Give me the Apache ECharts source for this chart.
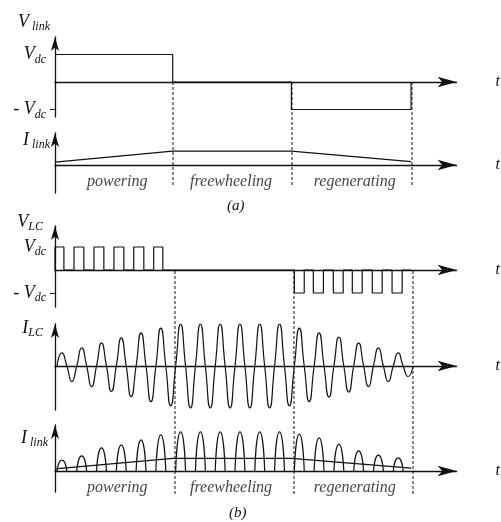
<!DOCTYPE html>
<html>
<head>
<meta charset="utf-8">
<script src="https://cdn.jsdelivr.net/npm/echarts@6/dist/echarts.min.js"></script>
<style>
  html, body { margin: 0; padding: 0; background: #fff; }
  #main { width: 501px; height: 522px; }
</style>
</head>
<body>
<div id="main"></div>
<script>
// time axis: one unit = one resonant cycle, phases change at ~6 and ~12
const xMax = 20.3
const phases = ['powering', 'freewheeling', 'regenerating']
const phaseLabelT = [3.15, 8.9, 15.15]
const phaseBoundsA = [5.95, 11.95, 18]
const phaseBoundsB = [6.05, 12.05, 18.05]

// (a) link voltage / link current
const vlinkEdges = [0, 5.95, 11.95, 18]
const vlinkLevels = [1, 0, -1]
const ilinkAvgT = [0, 5.95, 11.95, 18]
const ilinkAvgA = [0.07, 0.33, 0.33, 0.08]
const ilinkAvgB = [0.05, 0.30, 0.30, 0.07]

// (b) LC voltage pulses
const vlcPosOn = [0, 0.96, 1.97, 2.98, 3.98, 4.99]
const vlcPosOff = [0.45, 1.46, 2.47, 3.48, 4.49, 5.45]
const vlcNegOn = [12.1, 13.06, 14.07, 15.03, 16.04, 17.04]
const vlcNegOff = [12.6, 13.57, 14.57, 15.53, 16.54, 17.55]

// resonant current, one value per cycle
const cycleStart = 0.1
const ilcPeak = [0.31, 0.43, 0.55, 0.67, 0.79, 0.90, 1, 1, 1, 1, 1, 1, 0.90, 0.79, 0.69, 0.55, 0.43, 0.31]
const ilcTrough = [0.37, 0.49, 0.61, 0.73, 0.85, 0.95, 1, 1, 1, 1, 1, 0.95, 0.85, 0.74, 0.62, 0.49, 0.37, 0.25]
const linkPeak = [0.26, 0.36, 0.55, 0.62, 0.74, 0.86, 0.93, 0.93, 0.93, 0.93, 0.93, 0.93, 0.88, 0.79, 0.64, 0.48, 0.38, 0.31]

const dcTicks = [1, -1]

const font = '"Liberation Serif", "DejaVu Serif", serif'
const ink = '#111'
const rich = {
    v: { fontFamily: font, fontStyle: 'italic', fontSize: 18, lineHeight: 22, color: ink },
    s: { fontFamily: font, fontStyle: 'italic', fontSize: 12, lineHeight: 12, verticalAlign: 'bottom', color: ink }
}

// build the polylines from the arrays
const vlinkData = []
vlinkLevels.forEach((lv, i) => {
    vlinkData.push([vlinkEdges[i], lv], [vlinkEdges[i + 1], lv])
})
vlinkData.push([vlinkEdges[vlinkEdges.length - 1], 0])

const pulses = (on, off, lv) => {
    const d = []
    on.forEach((t, i) => {
        d.push([t, 0], [t, lv], [off[i], lv], [off[i], 0])
    })
    return d
}
const vlcData = pulses(vlcPosOn, vlcPosOff, 1)
    .concat([[vlcNegOn[0], 0]])
    .concat(pulses(vlcNegOn, vlcNegOff, -1))
    .concat([[18, 0]])

const ilcData = [[cycleStart, 0]]
const linkData = []
ilcPeak.forEach((p, k) => {
    const t0 = cycleStart + k
    ilcData.push([t0 + 0.25, p], [t0 + 0.5, 0], [t0 + 0.75, -ilcTrough[k]], [t0 + 1, 0])
    linkData.push([t0, 0], [t0 + 0.25, linkPeak[k]], [t0 + 0.5, 0], [t0 + 0.75, '-'])
})

const dashes = (bounds) => {
    const d = []
    bounds.forEach(b => d.push([b, 0], [b, 1], [b, '-']))
    return d
}

const W = 402.6
const grid = [
    { left: 55, top: 37, width: W, height: 80 },
    { left: 55, top: 133, width: W, height: 60 },
    { left: 55, top: 226, width: W, height: 81 },
    { left: 55, top: 324, width: W, height: 86 },
    { left: 55, top: 425, width: W, height: 67 },
    { left: 55, top: 82, width: W, height: 103 },
    { left: 55, top: 270, width: W, height: 224 }
]

const xAx = (gi, show) => ({
    type: 'value', gridIndex: gi, min: 0, max: xMax, show,
    name: 't', nameLocation: 'end', nameGap: 39,
    nameTextStyle: { fontFamily: font, fontStyle: 'italic', fontSize: 16, color: ink, verticalAlign: 'middle', padding: [8, 0, 0, 0] },
    axisLine: { show: true, onZero: true, symbol: ['none', 'arrow'], symbolSize: [8, 19], lineStyle: { color: ink, width: 1.3 } },
    axisTick: { show: false },
    axisLabel: { show: false },
    splitLine: { show: false }
})

const yAx = (gi, min, max, name, gap, padR, withDc) => ({
    type: 'value', gridIndex: gi, min, max,
    name, nameLocation: 'end', nameGap: gap,
    nameTextStyle: { align: 'right', verticalAlign: 'middle', padding: [0, padR, 0, 0], rich },
    axisLine: { show: true, symbol: ['none', 'arrow'], symbolSize: [6, 14], lineStyle: { color: ink, width: 1.3 } },
    axisTick: withDc ? { show: true, customValues: [-1], length: 5, lineStyle: { color: ink } } : { show: false },
    axisLabel: withDc ? {
        show: true, customValues: dcTicks, margin: 9, rich,
        formatter: v => v > 0 ? '{v|V}{s|dc}' : '{v|- V}{s|dc}'
    } : { show: false },
    splitLine: { show: false }
})

const line = (gi, data, extra) => Object.assign({
    type: 'line', xAxisIndex: gi, yAxisIndex: gi, data,
    symbol: 'none', silent: true, connectNulls: false,
    lineStyle: { color: ink, width: 1.2 }
}, extra || {})

const labels = (gi) => ({
    type: 'scatter', xAxisIndex: gi, yAxisIndex: gi, symbolSize: 0, silent: true,
    data: phases.map((p, i) => [phaseLabelT[i], -0.4, p]),
    label: {
        show: true, position: 'inside', formatter: p => p.value[2],
        fontFamily: font, fontStyle: 'italic', fontSize: 16, color: ink
    }
})

const chart = echarts.init(document.getElementById('main'))
chart.setOption({
    animation: false,
    backgroundColor: '#fff',
    grid,
    xAxis: [0, 1, 2, 3, 4].map(i => xAx(i, true)).concat([xAx(5, false), xAx(6, false)]),
    yAxis: [
        yAx(0, -1.273, 1.636, '{v|V}{s| link}', 15, 5, true),
        yAx(1, -0.667, 0.762, '{v|I}{s| link}', -7, 5, false),
        yAx(2, -1.609, 1.913, '{v|V}{s|LC}', 4, 12, true),
        yAx(3, -1.048, 1.0, '{v|I}{s|LC}', -4, 12, false),
        yAx(4, -0.5, 1.095, '{v|I}{s| link}', -13, 7, false),
        { type: 'value', gridIndex: 5, min: 0, max: 1, show: false },
        { type: 'value', gridIndex: 6, min: 0, max: 1, show: false }
    ],
    series: [
        line(0, vlinkData),
        line(1, ilinkAvgT.map((t, i) => [t, ilinkAvgA[i]])),
        line(2, vlcData),
        line(3, ilcData, { smooth: 0.6 }),
        line(4, linkData, { smooth: 0.75 }),
        line(4, ilinkAvgT.map((t, i) => [t, ilinkAvgB[i]])),
        line(5, dashes(phaseBoundsA), { lineStyle: { color: ink, width: 1, type: [3, 2] } }),
        line(6, dashes(phaseBoundsB), { lineStyle: { color: ink, width: 1, type: [3, 2] } }),
        labels(1),
        labels(4)
    ],
    graphic: [
        { type: 'text', left: 227, top: 199, style: { text: '(a)', font: 'italic 15px ' + font, fill: ink } },
        { type: 'text', left: 229, top: 506, style: { text: '(b)', font: 'italic 15px ' + font, fill: ink } }
    ]
})
</script>
</body>
</html>
